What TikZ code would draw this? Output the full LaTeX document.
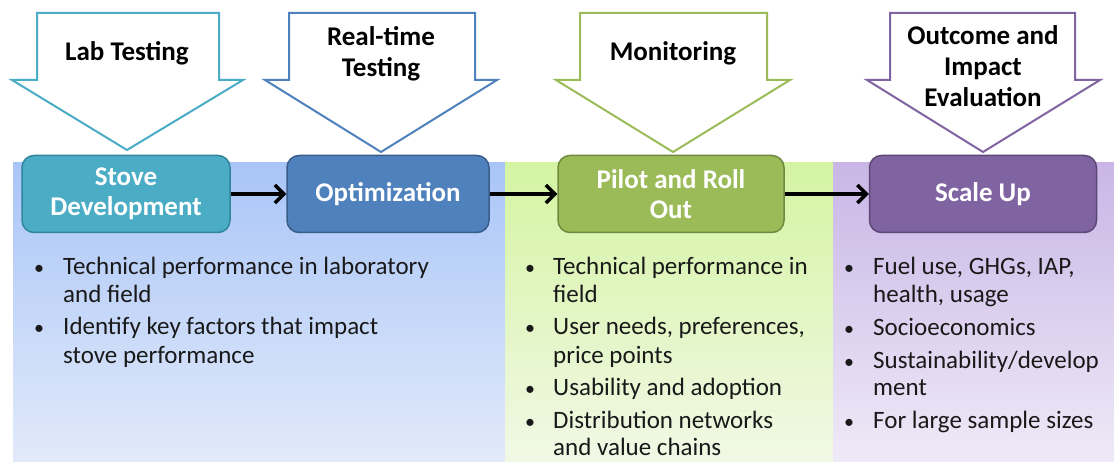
\documentclass[tikz,border=0pt]{standalone}
\usepackage{fontspec}
\setmainfont{Carlito}
\usetikzlibrary{arrows.meta}
\definecolor{cTeal}{HTML}{4BACC6}
\definecolor{cTealD}{HTML}{31859C}
\definecolor{cBlue}{HTML}{4F81BD}
\definecolor{cBlueD}{HTML}{385D8A}
\definecolor{cGreen}{HTML}{9BBB59}
\definecolor{cGreenD}{HTML}{71893F}
\definecolor{cPurple}{HTML}{8064A2}
\definecolor{cPurpleD}{HTML}{5C4776}
\definecolor{pBlueT}{HTML}{A9C5F7}
\definecolor{pBlueB}{HTML}{E2EAFA}
\definecolor{pGreenT}{HTML}{D4F4A2}
\definecolor{pGreenB}{HTML}{F1F8E6}
\definecolor{pPurpT}{HTML}{C9B6E6}
\definecolor{pPurpB}{HTML}{EFEAF7}
\begin{document}
\begin{tikzpicture}[x=1pt,y=-1pt,
  stage/.style={rounded corners=12pt, line width=1.5pt, minimum height=77pt, align=center,
    text=white, font=\fontsize{27}{30}\selectfont\bfseries, inner sep=0pt},
  callout/.style={line width=2pt, fill=white, line join=miter},
  ctext/.style={align=center, font=\fontsize{27}{31}\selectfont\bfseries, text=black},
  flow/.style={line width=3.5pt, -{Straight Barb[length=9pt,width=18pt,line width=3.5pt]}},
  ln/.style={anchor=base west, inner sep=0pt, font=\fontsize{25}{27}\selectfont, text=black!90},
  bul/.style={anchor=base, inner sep=0pt, font=\fontsize{20}{27}\selectfont, text=black!90}]
\useasboundingbox (0,0) rectangle (1114,462);
\fill[white] (0,0) rectangle (1114,462);
% panels
\shade[top color=pBlueT, bottom color=pBlueB] (13,163) rectangle (505,462);
\shade[top color=pGreenT, bottom color=pGreenB] (505,163) rectangle (833,462);
\shade[top color=pPurpT, bottom color=pPurpB] (833,163) rectangle (1114,462);
% callout arrows
\draw[callout, draw=cTeal] (37,13) -- (219,13) -- (219,80) -- (243,80) -- (127,150) -- (12,80) -- (37,80) -- cycle;
\draw[callout, draw=cBlue] (289,13) -- (475,13) -- (475,80) -- (497,80) -- (381,152) -- (265,80) -- (289,80) -- cycle;
\draw[callout, draw=cGreen] (580,13) -- (767,13) -- (767,80) -- (790,80) -- (673,152) -- (556,80) -- (580,80) -- cycle;
\draw[callout, draw=cPurple] (890,13) -- (1075,13) -- (1075,80) -- (1100,80) -- (983,152) -- (867,80) -- (890,80) -- cycle;
\node[ctext] (t1) at (127,53) {Lab Testing};
\node[ctext] (t2) at (381,54) {Real-time\\Testing};
\node[ctext] (t3) at (673,53) {Monitoring};
\node[ctext] (t4) at (983,66) {Outcome and\\Impact\\Evaluation};
% stage boxes
\node[stage, fill=cTeal, draw=cTealD, minimum width=208pt] (s1) at (126,194) {Stove\\Development};
\node[stage, fill=cBlue, draw=cBlueD, minimum width=202pt] (s2) at (388,194) {Optimization};
\node[stage, fill=cGreen, draw=cGreenD, minimum width=226pt] (s3) at (671,194) {Pilot and Roll\\Out};
\node[stage, fill=cPurple, draw=cPurpleD, minimum width=227pt] (s4) at (983,194) {Scale Up};
\draw[flow] (s1) -- (s2);
\draw[flow] (s2) -- (s3);
\draw[flow] (s3) -- (s4);
% blue panel bullets
\node[bul] (b11) at (39,275) {\textbullet};
\node[ln] (l11) at (63,275) {Technical performance in laboratory};
\node[ln] (l12) at (63,303) {and field};
\node[bul] (b12) at (39,335) {\textbullet};
\node[ln] (l13) at (63,335) {Identify key factors that impact};
\node[ln] (l14) at (63,363) {stove performance};
% green panel bullets
\node[bul] (b21) at (530,275) {\textbullet};
\node[ln] (l21) at (553,275) {Technical performance in};
\node[ln] (l22) at (553,303) {field};
\node[bul] (b22) at (530,335) {\textbullet};
\node[ln] (l23) at (553,335) {User needs, preferences,};
\node[ln] (l24) at (553,363) {price points};
\node[bul] (b23) at (530,395) {\textbullet};
\node[ln] (l25) at (553,395) {Usability and adoption};
\node[bul] (b24) at (530,428) {\textbullet};
\node[ln] (l26) at (553,428) {Distribution networks};
\node[ln] (l27) at (553,455) {and value chains};
% purple panel bullets
\node[bul] (b31) at (849,275) {\textbullet};
\node[ln] (l31) at (873,275) {Fuel use, GHGs, IAP,};
\node[ln] (l32) at (873,303) {health, usage};
\node[bul] (b32) at (849,336) {\textbullet};
\node[ln] (l33) at (873,336) {Socioeconomics};
\node[bul] (b33) at (849,368) {\textbullet};
\node[ln] (l34) at (873,368) {Sustainability/develop};
\node[ln] (l35) at (873,395) {ment};
\node[bul] (b34) at (849,428) {\textbullet};
\node[ln] (l36) at (873,428) {For large sample sizes};
\end{tikzpicture}
\end{document}
